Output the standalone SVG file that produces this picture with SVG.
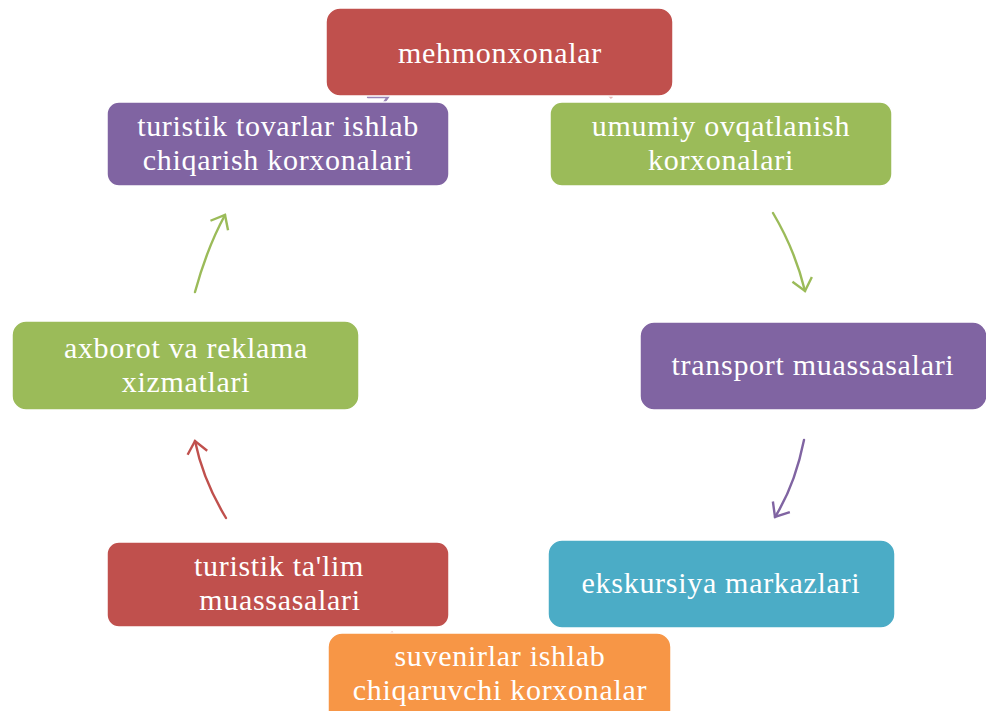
<svg xmlns="http://www.w3.org/2000/svg" width="986" height="711" viewBox="0 0 986 711">
<defs>
<style>
.n text{font-family:"Liberation Serif","Times New Roman",serif;font-size:30px;fill:#fff;text-anchor:middle;letter-spacing:0.7px}
.box{stroke:#fff;stroke-width:1.5}
.c{fill:none;stroke-width:2.4;stroke-linecap:round}
.f{fill:none;stroke-width:3;stroke-opacity:0.4}
</style>
<marker id="hg" viewBox="-14 -12 16 24" markerWidth="16" markerHeight="24" refX="0" refY="0" orient="auto" markerUnits="userSpaceOnUse"><path d="M-12,-10 L0,0 L-12,10" fill="none" stroke="#9BBB59" stroke-width="2.4"/></marker>
<marker id="hp" viewBox="-14 -12 16 24" markerWidth="16" markerHeight="24" refX="0" refY="0" orient="auto" markerUnits="userSpaceOnUse"><path d="M-12,-10 L0,0 L-12,10" fill="none" stroke="#8064A2" stroke-width="2.4"/></marker>
<marker id="hr" viewBox="-14 -12 16 24" markerWidth="16" markerHeight="24" refX="0" refY="0" orient="auto" markerUnits="userSpaceOnUse"><path d="M-12,-10 L0,0 L-12,10" fill="none" stroke="#C0504D" stroke-width="2.4"/></marker>
</defs>
<rect width="986" height="711" fill="#fff"/>
<g id="connectors">
<path class="f" d="M597,82 L612,98" stroke="#C0504D"/>
<path class="c" d="M368,97 L388,97 L380,108" stroke="#8064A2" opacity="0.8"/>
<path class="f" d="M391,632 L402,646" stroke="#C0504D"/>
<path class="f" d="M613,620 L625,606" stroke="#4BACC6"/>
<path class="c" d="M773,213 Q795,250 805,291" stroke="#9BBB59" marker-end="url(#hg)"/>
<path class="c" d="M804,440 Q795,485 775,517" stroke="#8064A2" marker-end="url(#hp)"/>
<path class="c" d="M226,518 Q203,480 195,441" stroke="#C0504D" marker-end="url(#hr)"/>
<path class="c" d="M195,292 Q207,248 225,215" stroke="#9BBB59" marker-end="url(#hg)"/>
</g>
<g id="n1" class="n"><rect class="box" x="326" y="8" width="347" height="88" rx="14" fill="#C0504D"/><text x="500" y="63">mehmonxonalar</text></g>
<g id="n2" class="n"><rect class="box" x="550" y="102" width="342" height="84" rx="12" fill="#9BBB59"/><text x="721" y="136">umumiy ovqatlanish</text><text x="721" y="170">korxonalari</text></g>
<g id="n3" class="n"><rect class="box" x="640" y="322" width="347" height="88" rx="14" fill="#8064A2"/><text x="813" y="375">transport muassasalari</text></g>
<g id="n4" class="n"><rect class="box" x="548" y="540" width="347" height="88" rx="14" fill="#4BACC6"/><text x="721" y="593">ekskursiya markazlari</text></g>
<g id="n5" class="n"><rect class="box" x="328" y="633" width="343" height="95" rx="14" fill="#F79646"/><text x="500" y="666">suvenirlar ishlab</text><text x="500" y="700">chiqaruvchi korxonalar</text></g>
<g id="n6" class="n"><rect class="box" x="107" y="542" width="342" height="85" rx="12" fill="#C0504D"/><text x="279" y="576">turistik ta'lim</text><text x="280" y="610">muassasalari</text></g>
<g id="n7" class="n"><rect class="box" x="12" y="321" width="347" height="89" rx="14" fill="#9BBB59"/><text x="186" y="358">axborot va reklama</text><text x="186" y="392">xizmatlari</text></g>
<g id="n8" class="n"><rect class="box" x="107" y="102" width="342" height="84" rx="12" fill="#8064A2"/><text x="278" y="136">turistik tovarlar ishlab</text><text x="278" y="170">chiqarish korxonalari</text></g>
</svg>
